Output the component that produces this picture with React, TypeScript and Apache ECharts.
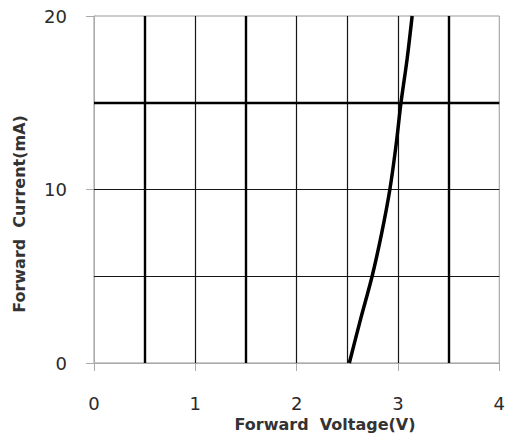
import React, { useEffect, useRef } from "react";
import * as echarts from "echarts";

const voltage = [2.52, 2.63, 2.745, 2.84, 2.92, 2.98, 3.03, 3.09, 3.14];
const current = [0, 2.5, 5, 7.5, 10, 12.5, 15, 17.5, 20];

const thinX = [1, 2, 2.5, 3];
const thickX = [0.5, 1.5, 3.5];
const thinY = [5, 10];
const thickY = [15];

const xName = "Forward  Voltage(V)";
const yName = "Forward  Current(mA)";

export default function App() {
  const ref = useRef<HTMLDivElement>(null);
  useEffect(() => {
    document.body.style.margin = "0";
    const chart = echarts.init(ref.current!, null, { renderer: "svg" });
    const font = "DejaVu Sans";
    const thin = { color: "#151515", width: 1.2, type: "solid" as const };
    const thick = { color: "#000", width: 2.4, type: "solid" as const };
    const markData: any[] = [
      ...thinX.map((v) => ({ xAxis: v, lineStyle: thin })),
      ...thinY.map((v) => ({ yAxis: v, lineStyle: thin })),
      ...thickX.map((v) => ({ xAxis: v, lineStyle: thick })),
      ...thickY.map((v) => ({ yAxis: v, lineStyle: thick })),
    ];
    chart.setOption({
      animation: false,
      backgroundColor: "#fff",
      grid: {
        left: 94,
        right: 5,
        top: 16,
        bottom: 75,
        show: true,
        borderColor: "#999",
        borderWidth: 1,
        backgroundColor: "transparent",
      },
      xAxis: {
        type: "value",
        min: 0,
        max: 4,
        interval: 1,
        axisLine: { show: true, lineStyle: { color: "#aaa", width: 1 } },
        axisTick: { show: true, length: 8, lineStyle: { color: "#aaa" } },
        axisLabel: { color: "#2a2a2a", fontSize: 18, fontFamily: font, margin: 31 },
        splitLine: { show: false },
      },
      yAxis: {
        type: "value",
        min: 0,
        max: 20,
        interval: 10,
        axisLine: { show: true, lineStyle: { color: "#aaa", width: 1 } },
        axisTick: { show: true, length: 8, lineStyle: { color: "#aaa" } },
        axisLabel: { color: "#2a2a2a", fontSize: 18, fontFamily: font, margin: 27 },
        splitLine: { show: false },
      },
      graphic: [
        {
          type: "text",
          x: 325,
          y: 424,
          style: {
            text: xName,
            fontSize: 16,
            fontWeight: "bold",
            fontFamily: font,
            fill: "#333",
            textAlign: "center",
            textVerticalAlign: "middle",
          },
        },
        {
          type: "text",
          x: 19,
          y: 214,
          rotation: Math.PI / 2,
          style: {
            text: yName,
            fontSize: 16,
            fontWeight: "bold",
            fontFamily: font,
            fill: "#333",
            textAlign: "center",
            textVerticalAlign: "middle",
          },
        },
      ],
      series: [
        {
          type: "line",
          data: voltage.map((v, i) => [v, current[i]]),
          smooth: 0.3,
          showSymbol: false,
          lineStyle: { color: "#000", width: 3.5 },
          z: 5,
          markLine: {
            silent: true,
            symbol: "none",
            label: { show: false },
            data: markData,
            z: 1,
          },
        },
      ],
    });
    return () => chart.dispose();
  }, []);
  return <div ref={ref} style={{ width: 508, height: 438 }} />;
}
